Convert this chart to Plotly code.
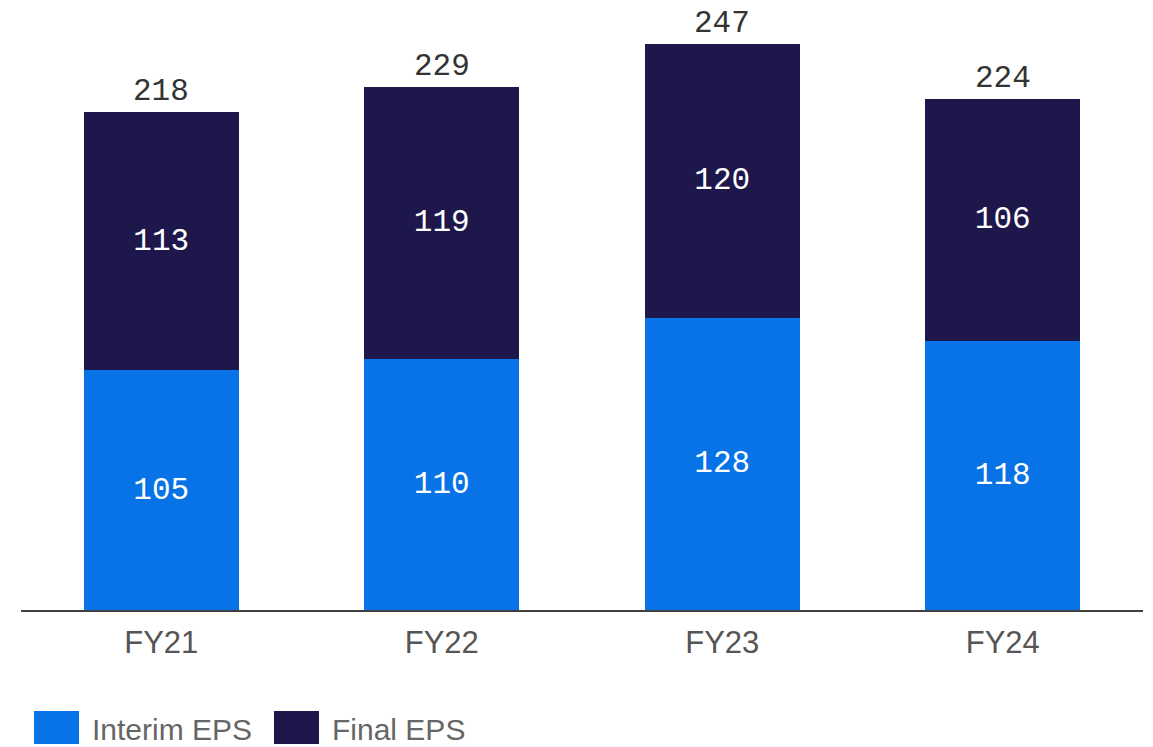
import plotly.graph_objects as go

years = ["FY21", "FY22", "FY23", "FY24"]
interim_eps = [105, 110, 128, 118]
final_eps = [113, 119, 120, 106]
totals = [218, 229, 247, 224]  # as printed (rounded independently)

COL_INTERIM = "#0873E6"
COL_FINAL = "#1E174B"
_MONO = "Liberation Mono, DejaVu Sans Mono, monospace"
_SANS = "Liberation Sans, Arial, sans-serif"

W, H = 1153, 747
M_L, M_R, M_T, M_B = 21, 10, 20, 137
PW, PH = W - M_L - M_R, H - M_T - M_B


def px(x):
    return (x - M_L) / PW


def py(y):
    return (H - M_B - y) / PH


fig = go.Figure()
fig.add_trace(go.Bar(
    x=years, y=interim_eps, name="Interim EPS", marker={"color": COL_INTERIM, "line": {"width": 0}},
    text=interim_eps, textposition="inside", insidetextanchor="middle",
    textfont={"family": _MONO, "size": 31, "color": "#FFFFFF"}, showlegend=False,
))
fig.add_trace(go.Bar(
    x=years, y=final_eps, name="Final EPS", marker={"color": COL_FINAL, "line": {"width": 0}},
    text=final_eps, textposition="inside", insidetextanchor="middle",
    textfont={"family": _MONO, "size": 31, "color": "#FFFFFF"}, showlegend=False,
))

# totals above the stacks
for yr, base, top, tot in zip(years, interim_eps, final_eps, totals):
    fig.add_annotation(
        x=yr, y=base + top, text=str(tot), showarrow=False, yanchor="bottom", yshift=2,
        borderpad=0, font={"family": _MONO, "size": 31, "color": "#333333"},
    )

# hand-drawn legend below the axis
legend_items = [("Interim EPS", COL_INTERIM, 34, 90), ("Final EPS", COL_FINAL, 274, 330)]
for label, col, sx, tx in legend_items:
    fig.add_shape(type="rect", xref="paper", yref="paper",
                  x0=px(sx), x1=px(sx + 45), y0=py(744), y1=py(711),
                  fillcolor=col, line={"width": 0})
    fig.add_annotation(xref="paper", yref="paper", x=px(tx), y=py(729),
                       xanchor="left", yanchor="middle", showarrow=False, text=label,
                       font={"family": _SANS, "size": 30, "color": "#666666"})

fig.update_layout(
    barmode="stack",
    bargap=0.447,
    width=W, height=H,
    margin={"l": M_L, "r": M_R, "t": M_T, "b": M_B},
    paper_bgcolor="#FFFFFF", plot_bgcolor="#FFFFFF",
    showlegend=False,
    hovermode=False,
    xaxis={
        "showgrid": False, "zeroline": False, "showline": True,
        "linecolor": "#404040", "linewidth": 2,
        "ticks": "", "ticklabelstandoff": 4,
        "tickfont": {"family": _SANS, "size": 31, "color": "#555555"},
    },
    yaxis={
        "range": [0, PH / 2.2834], "visible": False, "showgrid": False, "zeroline": False,
    },
)
fig.update_traces(cliponaxis=False)

# drop the browser's default body margin so the figure fills the window exactly
fig.write_html("out.html", config={"displayModeBar": False},
               post_script="document.body.style.margin = '0';")
